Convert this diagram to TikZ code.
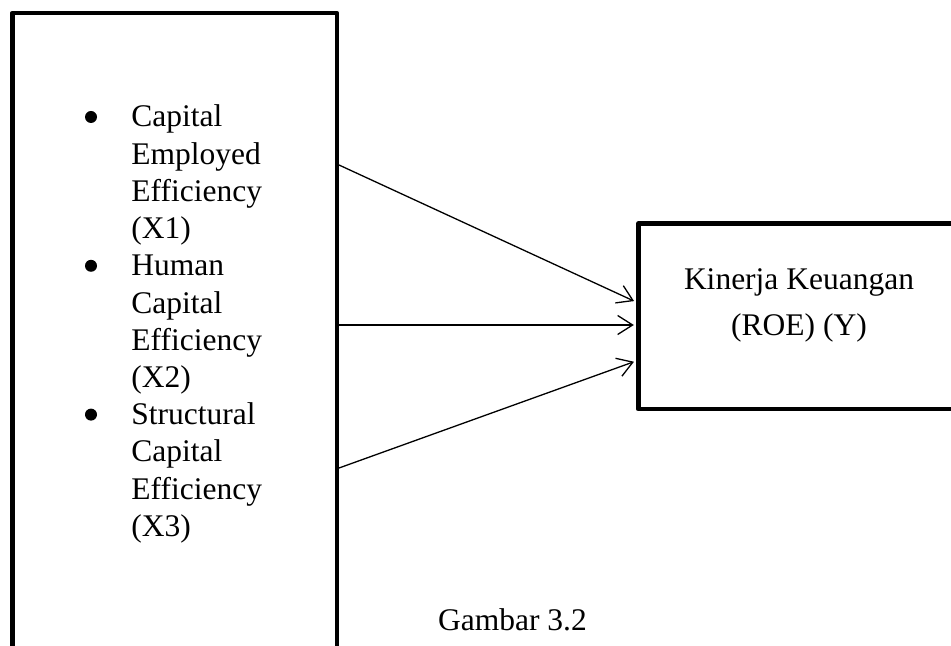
\documentclass[tikz,border=0pt]{standalone}
\usepackage{fontspec}
\setmainfont{Liberation Serif}
\usetikzlibrary{arrows.meta}
\tikzset{
  box/.style={draw, line width=2.25pt, line join=round, rectangle, inner sep=0pt},
  txt/.style={inner sep=0pt, font=\fontsize{15.75}{18.6}\selectfont},
  ytxt/.style={inner sep=0pt, font=\fontsize{15.75}{22.5}\selectfont},
  bul/.style={circle, fill, inner sep=0pt, minimum size=6pt},
  arr/.style={line width=0.65pt, -{Straight Barb[length=7.5pt,width=9.5pt,line width=0.65pt]}, shorten >=1.1pt}
}
\begin{document}
\begin{tikzpicture}[x=0.5pt,y=-0.5pt]
\useasboundingbox (0,0) rectangle (951,646);
\clip (0,0) rectangle (951,646);
\node[box, minimum width=162.25pt, minimum height=373.5pt] (L) at (174.5,386.5) {};
\node[box, minimum width=180.85pt, minimum height=92.85pt] (R) at (819.15,316.35) {};

\node[bul] (b1) at (91,117) {};
\node[bul] (b2) at (91,265.8) {};
\node[bul] (b3) at (91,414.6) {};
\node[txt, anchor=base west, align=left] (t1) at (131,238.6) {Capital\\Employed\\Efficiency\\(X1)};
\node[txt, anchor=base west, align=left] (t2) at (131,387.4) {Human\\Capital\\Efficiency\\(X2)};
\node[txt, anchor=base west, align=left] (t3) at (131,536.2) {Structural\\Capital\\Efficiency\\(X3)};

\node[ytxt, anchor=base, align=center] (ry) at (799,335) {Kinerja Keuangan\\(ROE) (Y)};
\node[txt, anchor=base] (cap) at (512.5,630) {Gambar 3.2};

\coordinate (s1) at (0,165);
\coordinate (s2) at (0,325);
\coordinate (s3) at (0,468);
\coordinate (e1) at (0,302);
\coordinate (e2) at (0,325);
\coordinate (e3) at (0,361);
\draw[arr] (L.east |- s1) -- (R.west |- e1);
\draw[arr] (L.east |- s2) -- (R.west |- e2);
\draw[arr] (L.east |- s3) -- (R.west |- e3);
\end{tikzpicture}
\end{document}
